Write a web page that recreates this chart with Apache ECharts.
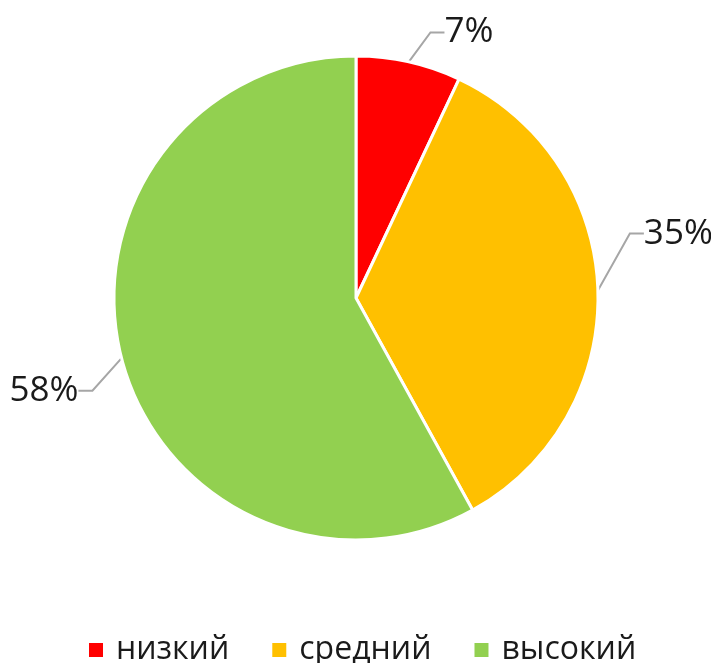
<!DOCTYPE html>
<html>
<head>
<meta charset="utf-8">
<script src="https://cdn.jsdelivr.net/npm/echarts@6/dist/echarts.min.js"></script>
<style>
  html, body { margin: 0; padding: 0; background: #fff; }
  #chart { width: 711px; height: 663px; }
</style>
</head>
<body>
<div id="chart"></div>
<script>
// Levels and their shares (percent)
const categories = ['низкий', 'средний', 'высокий'];
const shares = [7, 35, 58];
const colors = ['#FF0000', '#FFC000', '#92D050'];

// nudge of each label from its default place, to sit like the original
const labelShiftX = [12, 2, 0];
const labelShiftY = [-4, -56, 26];

const font = 'Open Sans';

const chart = echarts.init(document.getElementById('chart'));

/**
 * Moves a pie label by the nudge of its slice; the label line is redrawn.
 *
 * @param {Object} params The label layout params
 */
const moveLabel = (params) => {
  const r = params.labelRect;
  const i = params.dataIndex;
  const onLeft = params.align === 'right';
  return {
    x: (onLeft ? r.x + r.width : r.x) + labelShiftX[i],
    y: r.y + r.height / 2 + labelShiftY[i]
  };
};

const option = {
  animation: false,
  textStyle: { fontFamily: font },
  legend: {
    top: 629,
    left: 82,
    icon: 'rect',
    itemWidth: 16,
    itemHeight: 16,
    itemGap: 41,
    textStyle: {
      fontFamily: font,
      fontSize: 32,
      lineHeight: 32,
      color: '#1a1a1a',
      padding: [0, 0, 0, 7]
    },
    data: categories
  },
  series: [
    {
      type: 'pie',
      center: [356, 298],
      radius: 242,
      startAngle: 90,
      clockwise: true,
      itemStyle: { borderColor: '#fff', borderWidth: 3 },
      label: {
        formatter: '{d}%',
        fontFamily: font,
        fontSize: 35,
        color: '#1a1a1a',
        overflow: 'none',
        edgeDistance: 0,
        distanceToLabelLine: 4
      },
      labelLine: {
        length: 26,
        length2: 14,
        lineStyle: { color: '#a6a6a6', width: 2 }
      },
      labelLayout: moveLabel,
      data: categories.map((name, i) => ({
        name,
        value: shares[i],
        itemStyle: { color: colors[i] }
      }))
    }
  ]
};

chart.setOption(option);
</script>
</body>
</html>
